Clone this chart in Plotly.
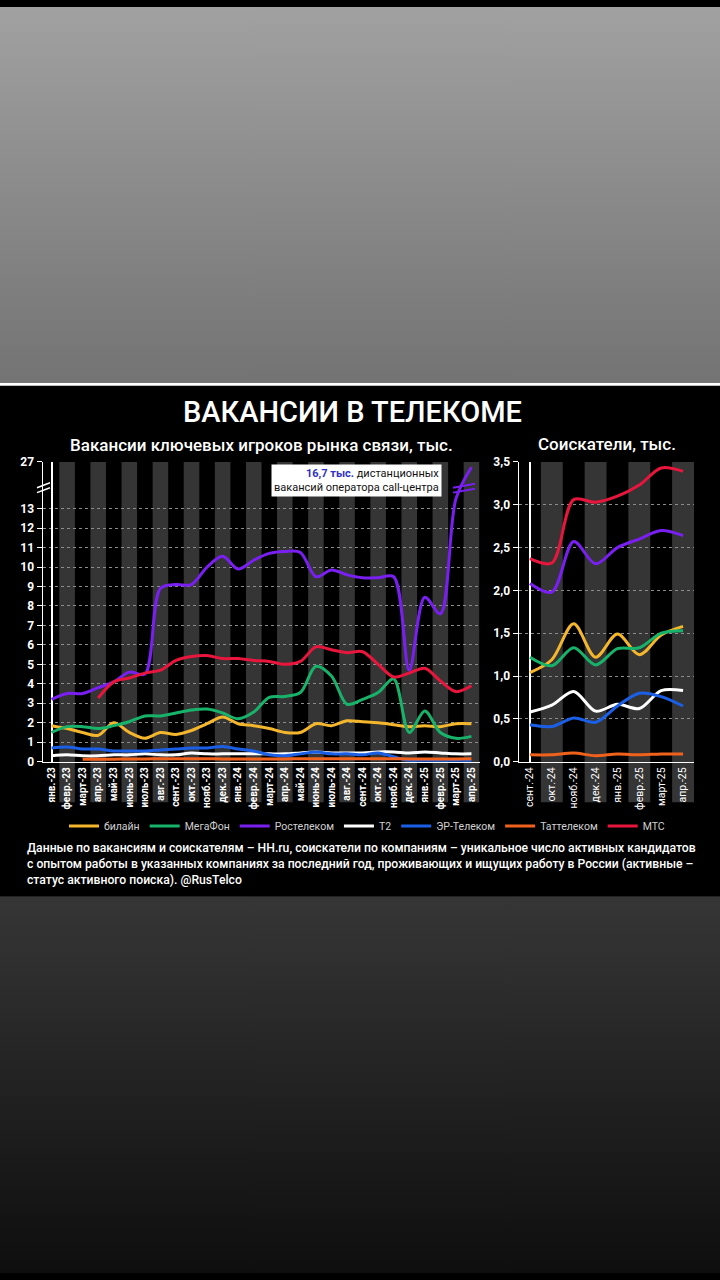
import base64
import plotly.graph_objects as go

W, H = 720, 1280

# ---------------- data ----------------
months_left = ["янв.-23", "февр.-23", "март-23", "апр.-23", "май-23", "июнь-23", "июль-23",
               "авг.-23", "сент.-23", "окт.-23", "нояб.-23", "дек.-23",
               "янв.-24", "февр.-24", "март-24", "апр.-24", "май-24", "июнь-24", "июль-24",
               "авг.-24", "сент.-24", "окт.-24", "нояб.-24", "дек.-24",
               "янв.-25", "февр.-25", "март-25", "апр.-25"]
months_right = ["сент.-24", "окт.-24", "нояб.-24", "дек.-24", "янв.-25", "февр.-25", "март-25", "апр.-25"]

names = ["билайн", "МегаФон", "Ростелеком", "T2", "ЭР-Телеком", "Таттелеком", "МТС"]
colors = ["#f4b62c", "#17b36a", "#7a1ff2", "#ffffff", "#1b5fe6", "#f0621c", "#e8153d"]

# vacancies, thousand
vac_beeline = [1.85, 1.7, 1.5, 1.35, 2.0, 1.5, 1.2, 1.5, 1.4, 1.6, 1.95, 2.3, 1.95, 1.85,
               1.7, 1.5, 1.5, 1.95, 1.85, 2.1, 2.05, 2.0, 1.9, 1.8, 1.85, 1.8, 1.95, 1.95]
vac_megafon = [1.5, 1.8, 1.8, 1.7, 1.85, 2.05, 2.35, 2.35, 2.5, 2.65, 2.7, 2.5, 2.2, 2.55,
               3.3, 3.35, 3.55, 4.9, 4.4, 2.95, 3.2, 3.55, 4.25, 1.5, 2.6, 1.5, 1.2, 1.3]
vac_rostelecom = [3.2, 3.5, 3.5, 3.8, 4.1, 4.6, 4.5, 8.9, 9.1, 9.1, 10.0, 10.55, 9.9, 10.35,
                  10.7, 10.8, 10.75, 9.5, 9.85, 9.6, 9.45, 9.45, 9.5, 4.7, 8.45, 7.6, 13.5, 24.5]
vac_t2 = [0.3, 0.35, 0.3, 0.3, 0.35, 0.35, 0.4, 0.35, 0.35, 0.45, 0.4, 0.4, 0.4, 0.4,
          0.4, 0.4, 0.45, 0.5, 0.45, 0.45, 0.45, 0.5, 0.5, 0.45, 0.5, 0.45, 0.4, 0.4]
vac_er = [0.7, 0.75, 0.65, 0.65, 0.55, 0.55, 0.55, 0.6, 0.65, 0.7, 0.7, 0.78, 0.65, 0.55,
          0.35, 0.3, 0.4, 0.5, 0.4, 0.4, 0.35, 0.45, 0.25, 0.05, 0.05, 0.0, 0.02, 0.02]
vac_tattelecom = [None, None, 0.12, 0.13, 0.13, 0.14, 0.14, 0.15, 0.15, 0.15, 0.15, 0.14, 0.14, 0.14,
                  0.14, 0.14, 0.15, 0.15, 0.15, 0.15, 0.15, 0.15, 0.15, 0.14, 0.14, 0.14, 0.14, 0.15]
vac_mts = [None, None, None, 3.27, 4.1, 4.3, 4.55, 4.7, 5.2, 5.4, 5.45, 5.3, 5.3, 5.2,
           5.15, 5.0, 5.15, 5.9, 5.75, 5.6, 5.65, 5.0, 4.35, 4.55, 4.8, 4.15, 3.6, 3.9]

# job seekers, thousand
seek_beeline = [1.04, 1.19, 1.61, 1.22, 1.49, 1.25, 1.48, 1.58]
seek_megafon = [1.22, 1.12, 1.33, 1.13, 1.32, 1.33, 1.5, 1.53]
seek_rostelecom = [2.08, 1.98, 2.57, 2.31, 2.5, 2.6, 2.7, 2.64]
seek_t2 = [0.58, 0.66, 0.82, 0.59, 0.67, 0.62, 0.83, 0.83]
seek_er = [0.43, 0.41, 0.51, 0.46, 0.65, 0.8, 0.76, 0.65]
seek_tattelecom = [0.08, 0.08, 0.1, 0.07, 0.09, 0.08, 0.09, 0.09]
seek_mts = [2.37, 2.32, 3.06, 3.03, 3.1, 3.23, 3.43, 3.39]

vac_series = [vac_beeline, vac_megafon, vac_rostelecom, vac_t2, vac_er, vac_tattelecom, vac_mts]
seek_series = [seek_beeline, seek_megafon, seek_rostelecom, seek_t2, seek_er, seek_tattelecom, seek_mts]

left_ticks = list(range(0, 14)) + [27]
right_ticks = [0, 0.5, 1.0, 1.5, 2.0, 2.5, 3.0, 3.5]

# broken-axis scale for the left chart: linear up to BREAK, compressed above it
BREAK, TOP_REAL, TOP_T = 14.0, 27.0, 15.4


def brk(v):
    if v is None:
        return None
    if v <= BREAK:
        return v
    return BREAK + (v - BREAK) * (TOP_T - BREAK) / (TOP_REAL - BREAK)


# ---------------- geometry helpers (pixels -> paper) ----------------
def px(x):
    return x / W


def py(y):
    return 1 - y / H


def gradient_svg(c0, c1, h):
    svg = (f"<svg xmlns='http://www.w3.org/2000/svg' width='720' height='{h}' preserveAspectRatio='none'>"
           f"<defs><linearGradient id='g' x1='0' y1='0' x2='0' y2='1'>"
           f"<stop offset='0' stop-color='{c0}'/><stop offset='1' stop-color='{c1}'/>"
           f"</linearGradient></defs><rect width='720' height='{h}' fill='url(#g)'/></svg>")
    return "data:image/svg+xml;base64," + base64.b64encode(svg.encode()).decode()


fig = go.Figure()

xl = list(range(len(months_left)))
xr = list(range(len(months_right)))
for name, col, vs, ss in zip(names, colors, vac_series, seek_series):
    fig.add_trace(go.Scatter(x=xl, y=[brk(v) for v in vs], name=name, mode="lines",
                             line=dict(color=col, width=3, shape="spline", smoothing=0.9),
                             connectgaps=False, xaxis="x", yaxis="y", legendgroup=name,
                             showlegend=True, hoverinfo="skip"))
    fig.add_trace(go.Scatter(x=xr, y=ss, name=name, mode="lines",
                             line=dict(color=col, width=3, shape="spline", smoothing=0.9),
                             xaxis="x2", yaxis="y2", legendgroup=name, showlegend=False,
                             hoverinfo="skip"))

images = [
    dict(source=gradient_svg("#a1a1a1", "#737373", 380), xref="paper", yref="paper",
         x=0, y=1, sizex=1, sizey=380 / H, xanchor="left", yanchor="top",
         sizing="stretch", layer="below"),
    dict(source=gradient_svg("#363636", "#0e0e0e", 381), xref="paper", yref="paper",
         x=0, y=py(899), sizex=1, sizey=381 / H, xanchor="left", yanchor="top",
         sizing="stretch", layer="below"),
]

shapes = []
# white separator line
shapes.append(dict(type="rect", xref="paper", yref="paper", x0=0, x1=1, y0=py(383), y1=py(380),
                   fillcolor="#ffffff", line_width=0, layer="above"))

# alternating category stripes
STRIPE = "#353535"
for i in range(1, len(months_left), 2):
    shapes.append(dict(type="rect", xref="x", yref="paper", x0=i - 0.5, x1=i + 0.5,
                       y0=py(804), y1=py(460), fillcolor=STRIPE, line_width=0, layer="below"))
for i in range(1, len(months_right), 2):
    shapes.append(dict(type="rect", xref="x2", yref="paper", x0=i - 0.5, x1=i + 0.5,
                       y0=py(804), y1=py(460), fillcolor=STRIPE, line_width=0, layer="below"))

# axis break marks
for dy in (0, 5):
    shapes.append(dict(type="line", xref="paper", yref="paper", x0=px(37), x1=px(50),
                       y0=py(486 + dy), y1=py(481 + dy), line=dict(color="#ffffff", width=1.5)))
    shapes.append(dict(type="line", xref="paper", yref="paper", x0=px(453), x1=px(475),
                       y0=py(486 + dy), y1=py(482 + dy), line=dict(color="#7a1ff2", width=2)))

annotations = [
    dict(text="ВАКАНСИИ В ТЕЛЕКОМЕ", x=px(352), y=py(409), xref="paper", yref="paper",
         xanchor="center", yanchor="middle",
         showarrow=False, font=dict(family="Roboto", size=29, color="#ffffff", weight=500)),
    dict(text="Вакансии ключевых игроков рынка связи, тыс.", x=px(261), y=py(443), xref="paper",
         yref="paper", xanchor="center", yanchor="middle",
         showarrow=False, font=dict(family="Roboto", size=17, color="#ffffff", weight=500)),
    dict(text="Соискатели, тыс.", x=px(607), y=py(442), xref="paper", yref="paper",
         xanchor="center", yanchor="middle",
         showarrow=False, font=dict(family="Roboto", size=17, color="#ffffff", weight=500)),
    dict(text="<b><span style='color:#3030c8'>16,7 тыс.</span></b> дистанционных<br>вакансий оператора call-центра",
         x=px(442), y=py(462), xref="paper", yref="paper", xanchor="right", yanchor="top",
         align="right", showarrow=False, bgcolor="#ffffff", borderpad=2,
         font=dict(family="Roboto", size=11, color="#111111")),
    dict(text="Данные по вакансиям и соискателям – HH.ru, соискатели по компаниям – уникальное число активных кандидатов<br>"
              "с опытом работы в указанных компаниях за последний год, проживающих и ищущих работу в России (активные –<br>"
              "статус активного поиска). @RusTelco",
         x=px(25), y=py(841), xref="paper", yref="paper", xanchor="left", yanchor="top", align="left",
         showarrow=False, font=dict(family="Roboto", size=12.2, color="#ffffff", weight=500)),
]

axis_common = dict(showline=True, linecolor="#ffffff", linewidth=1.5, zeroline=False,
                   tickfont=dict(family="Roboto", color="#ffffff", size=12, weight=700))

fig.update_layout(
    width=W, height=H, margin=dict(l=0, r=0, t=0, b=0),
    paper_bgcolor="#000000", plot_bgcolor="rgba(0,0,0,0)",
    separators=", ",
    shapes=shapes, annotations=annotations, images=images,
    showlegend=True, hovermode=False,
    legend=dict(orientation="h", x=px(367), xanchor="center", y=py(828), yanchor="middle",
                font=dict(family="Roboto", size=10.5, color="#d0d0d0"), bgcolor="rgba(0,0,0,0)",
                itemwidth=30, tracegroupgap=0),
    xaxis=dict(domain=[px(43), px(480)], range=[-0.55, len(months_left) - 0.45],
               tickvals=xl, ticktext=months_left, tickangle=-90, showgrid=False,
               showline=True, linecolor="#ffffff", linewidth=1.5, ticks="",
               tickfont=dict(family="Roboto", color="#ffffff", size=10, weight=700), anchor="y"),
    yaxis=dict(domain=[py(763), py(460)], range=[0, TOP_T], tickvals=[brk(t) for t in left_ticks],
               ticktext=[str(t) for t in left_ticks], showgrid=True, gridcolor="#8c8c8c",
               griddash="dot", gridwidth=1, ticks="outside", ticklen=5, tickcolor="#ffffff",
               anchor="x", **axis_common),
    xaxis2=dict(domain=[px(519), px(694)], range=[-0.5, len(months_right) - 0.5],
                tickvals=xr, ticktext=months_right, tickangle=-90, showgrid=False,
                showline=True, linecolor="#ffffff", linewidth=1.5, ticks="",
                tickfont=dict(family="Roboto", color="#ffffff", size=10.5), anchor="y2"),
    yaxis2=dict(domain=[py(763), py(460)], range=[0, 3.5], tickvals=right_ticks, tickformat=".1f",
                showgrid=True, gridcolor="#8c8c8c", griddash="dot", gridwidth=1,
                ticks="outside", ticklen=5, tickcolor="#ffffff", anchor="x2", **axis_common),
)

page_css = ("var s=document.createElement('style');"
            "s.textContent='html,body{margin:0!important;padding:0!important;overflow:hidden;"
            "background:#000;}';"
            "document.head.appendChild(s);")

fig.write_html("out.html", config={"displayModeBar": False, "staticPlot": True},
               post_script=page_css)
